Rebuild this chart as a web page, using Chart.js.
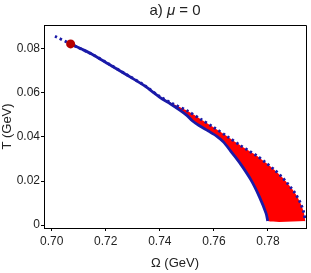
<!DOCTYPE html>
<html>
<head>
<meta charset="utf-8">
<script src="https://cdn.jsdelivr.net/npm/chart.js@4/dist/chart.umd.min.js"></script>
<style>
  html, body { margin: 0; padding: 0; background: #fff; }
  canvas { display: block; }
</style>
</head>
<body>
<canvas id="myChart" width="311" height="273"></canvas>
<script>
// dotted curve (full branch), Omega in GeV and T in GeV
const omegaDotted = [0.7012, 0.7070, 0.7154, 0.7210, 0.7278, 0.7344, 0.7400, 0.7450, 0.7500,
  0.7550, 0.7600, 0.7650, 0.7700, 0.7735, 0.7760, 0.7790, 0.7820, 0.7850, 0.7875, 0.7900,
  0.7920, 0.7932, 0.7938];
const tDotted = [0.0858, 0.0823, 0.0773, 0.0733, 0.0683, 0.0634, 0.0584, 0.0550, 0.0520,
  0.0482, 0.0443, 0.0402, 0.0360, 0.0333, 0.0314, 0.0285, 0.0255, 0.0220, 0.0185, 0.0145,
  0.0100, 0.0060, 0.0018];

// solid curve, starting at the critical point
const omegaSolid = [0.7070, 0.7110, 0.7154, 0.7210, 0.7278, 0.7344, 0.7400, 0.7440, 0.7475,
  0.7500, 0.7520, 0.7545, 0.7580, 0.7611, 0.7635, 0.7662, 0.7697, 0.7737, 0.7768, 0.7793, 0.7799];
const tSolid = [0.0823, 0.0800, 0.0773, 0.0732, 0.0682, 0.0632, 0.0580, 0.0550, 0.0521,
  0.0498, 0.0474, 0.0452, 0.0427, 0.0403, 0.0378, 0.0336, 0.0280, 0.0205, 0.0129, 0.0053, 0.0018];

const criticalPoint = [{ x: 0.7070, y: 0.0823 }];

const xTicks = [0.70, 0.72, 0.74, 0.76, 0.78];
const yTicks = [0, 0.02, 0.04, 0.06, 0.08];

const blue = '#1a1aa8';
const toPoints = (xs, ys) => xs.map((x, i) => ({ x, y: ys[i] }));

// lower edge of the red area: solid curve, then along the bottom to the dotted end
const lowerEdge = toPoints(omegaSolid, tSolid)
  .concat([{ x: omegaDotted[omegaDotted.length - 1], y: tSolid[tSolid.length - 1] }]);

const titlePlugin = {
  id: 'muTitle',
  afterDraw(chart) {
    const { ctx, chartArea } = chart;
    const parts = [['a) ', 'normal'], ['μ', 'italic'], [' = 0', 'normal']];
    ctx.save();
    ctx.fillStyle = '#222';
    ctx.textBaseline = 'middle';
    let total = 0;
    parts.forEach(([t, s]) => {
      ctx.font = `${s} 15px "Liberation Sans", Arial, sans-serif`;
      total += ctx.measureText(t).width;
    });
    let x = (chartArea.left + chartArea.right) / 2 - total / 2;
    parts.forEach(([t, s]) => {
      ctx.font = `${s} 15px "Liberation Sans", Arial, sans-serif`;
      ctx.fillText(t, x, 11);
      x += ctx.measureText(t).width;
    });
    // frame top and right
    ctx.strokeStyle = '#000';
    ctx.lineWidth = 1;
    ctx.beginPath();
    ctx.moveTo(Math.round(chartArea.left) + 0.5, Math.round(chartArea.top) + 0.5);
    ctx.lineTo(Math.round(chartArea.right) + 0.5, Math.round(chartArea.top) + 0.5);
    ctx.lineTo(Math.round(chartArea.right) + 0.5, Math.round(chartArea.bottom) + 0.5);
    ctx.stroke();
    ctx.restore();
  }
};

const font = { family: '"Liberation Sans", Arial, sans-serif', size: 12 };

new Chart(document.getElementById('myChart').getContext('2d'), {
  type: 'line',
  data: {
    datasets: [
      {
        data: criticalPoint,
        showLine: false,
        pointRadius: 4.5,
        pointBackgroundColor: '#b50000',
        pointBorderWidth: 0,
      },
      {
        data: toPoints(omegaSolid, tSolid),
        borderColor: blue,
        borderWidth: 2.8,
        pointRadius: 0,
        tension: 0.3,
      },
      {
        data: toPoints(omegaDotted, tDotted),
        borderColor: blue,
        borderWidth: 2.8,
        borderDash: [2.4, 3],
        pointRadius: 0,
        tension: 0.3,
        fill: { target: '+1' },
        backgroundColor: '#ff0000',
      },
      {
        data: lowerEdge,
        borderColor: 'transparent',
        borderWidth: 0,
        pointRadius: 0,
        tension: 0.3,
      },
    ],
  },
  options: {
    responsive: false,
    animation: false,
    devicePixelRatio: 1,
    layout: { padding: { left: 0, right: 5, top: 25, bottom: 0 } },
    plugins: { legend: { display: false }, tooltip: { enabled: false } },
    scales: {
      x: {
        type: 'linear',
        min: 0.69715,
        max: 0.79407,
        afterFit: s => { s.height = 45; },
        afterBuildTicks: s => { s.ticks = xTicks.map(v => ({ value: v })); },
        ticks: { font, color: '#222', padding: 3, callback: v => v.toFixed(2) },
        grid: { drawOnChartArea: false, tickLength: 3, color: '#000' },
        border: { color: '#000', width: 1 },
        title: {
          display: true,
          text: 'Ω (GeV)',
          font: { family: font.family, size: 13 },
          color: '#222',
          padding: { top: 2, bottom: 2 },
        },
      },
      y: {
        type: 'linear',
        min: -0.00136,
        max: 0.0909,
        afterFit: s => { s.width = 44; },
        afterBuildTicks: s => { s.ticks = yTicks.map(v => ({ value: v })); },
        ticks: { font, color: '#222', padding: 1, callback: v => (v === 0 ? '0' : v.toFixed(2)) },
        grid: { drawOnChartArea: false, tickLength: 3, color: '#000' },
        border: { color: '#000', width: 1 },
        title: {
          display: true,
          text: 'T (GeV)',
          font: { family: font.family, size: 13 },
          color: '#222',
          padding: { top: 0, bottom: 0 },
        },
      },
    },
  },
  plugins: [titlePlugin],
});
</script>
</body>
</html>
